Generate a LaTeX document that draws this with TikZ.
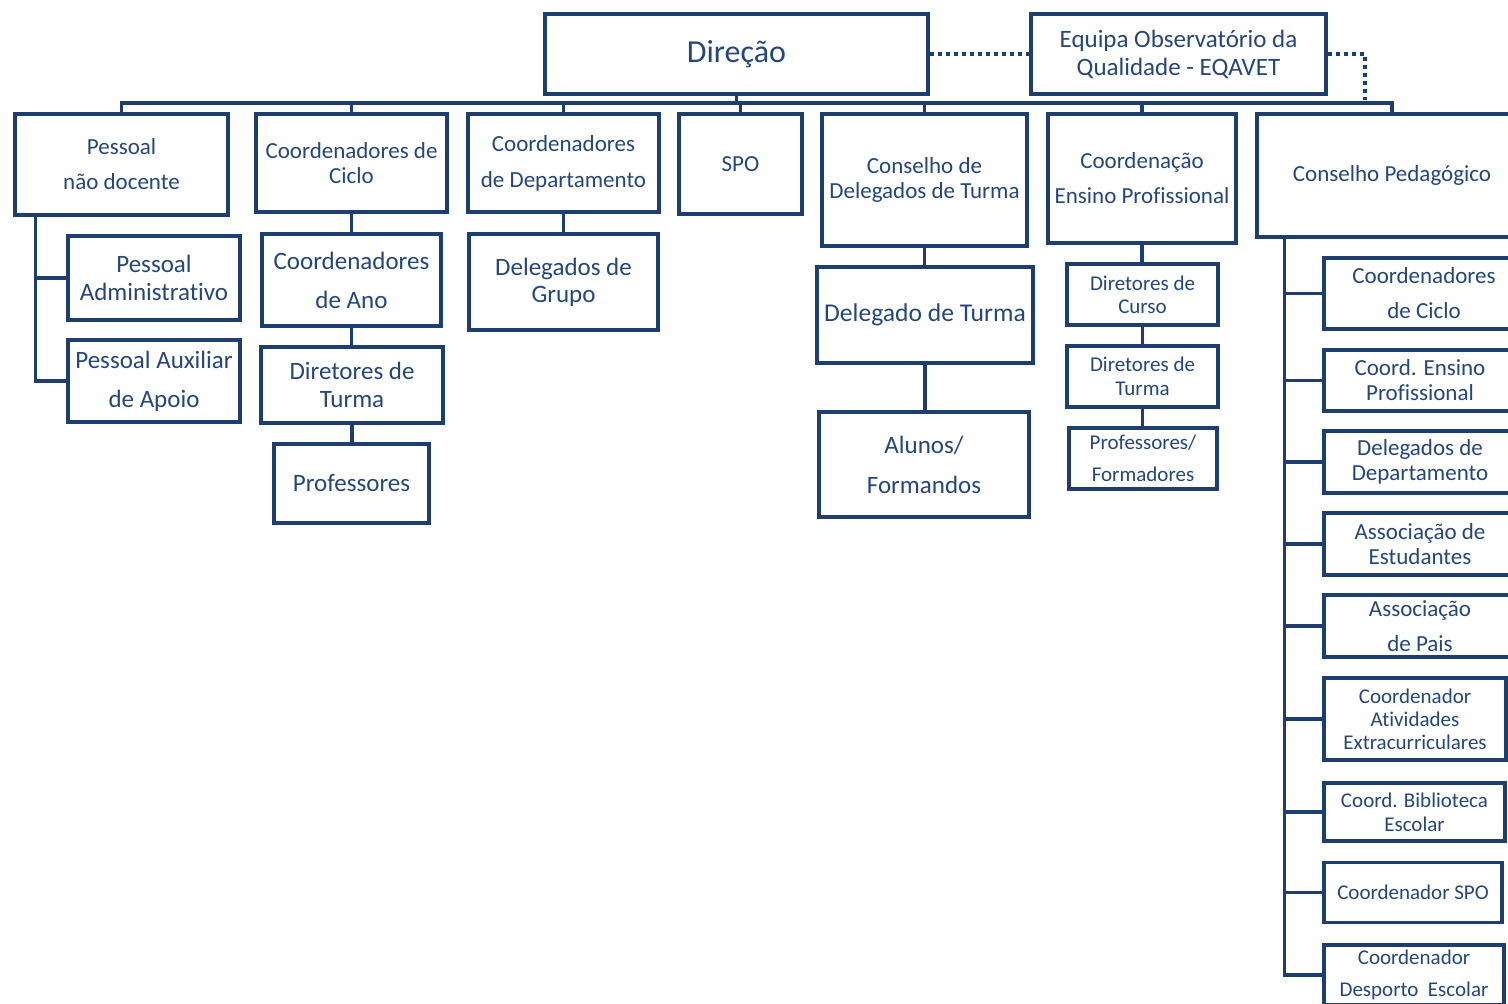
\documentclass[tikz,border=0pt]{standalone}
\usepackage{fontspec}
\setmainfont{Carlito}[Ligatures=NoCommon]
\definecolor{ln}{RGB}{31,62,112}
\definecolor{tx}{RGB}{36,70,122}
\begin{document}
\begin{tikzpicture}[x=0.5pt,y=-0.5pt,
  box/.style={draw=ln, line width=1.7pt, text=tx, align=center, inner sep=0pt},
  sz/.style 2 args={minimum width=#1*0.5pt, minimum height=#2*0.5pt},
  fs/.style 2 args={font=\fontsize{#1}{#2}\selectfont},
  conn/.style={draw=ln, line width=1.7pt},
  dots/.style={draw=ln, line width=2pt, dash pattern=on 2pt off 2pt}]
\useasboundingbox (0,0) rectangle (1508,1003);
% top
\node[box, sz={383}{80}, fs={16}{19}] (dir) at (736.5,54) {Direção};
\node[box, sz={295}{80}, fs={12.5}{14}] (eq) at (1178.5,54) {Equipa Observatório da\\Qualidade - EQAVET};
% level 1
\node[box, sz={213}{101}, fs={11.5}{17.5}] (a1) at (121.5,164.5) {Pessoal\\não docente};
\node[box, sz={191}{98}, fs={11.5}{12.5}] (b1) at (351.5,163) {Coordenadores de\\Ciclo};
\node[box, sz={191}{98}, fs={11.5}{18}] (c1) at (563.5,163) {Coordenadores\\de Departamento};
\node[box, sz={123}{100}, fs={11.5}{14}] (d1) at (740.5,164) {SPO};
\node[box, sz={205}{132}, fs={11.5}{12.5}] (e1) at (924.5,180) {Conselho de\\Delegados de Turma};
\node[box, sz={188}{129}, fs={11.5}{17.5}] (f1) at (1142,178.5) {Coordenação\\Ensino Profissional};
\node[box, sz={270}{123}, fs={11.5}{14}] (g1) at (1392,175.5) {Conselho Pedagógico};
% level 2 left
\node[box, sz={172}{84}, fs={12.5}{14}] (a2) at (154,278) {Pessoal\\Administrativo};
\node[box, sz={172}{82}, fs={12.5}{19.5}] (a3) at (154,381) {Pessoal Auxiliar\\de Apoio};
\node[box, sz={179}{92}, fs={12.5}{19.5}] (b2) at (351.5,280) {Coordenadores\\de Ano};
\node[box, sz={182}{76}, fs={12.5}{14}] (b3) at (352,385) {Diretores de\\Turma};
\node[box, sz={155}{79}, fs={12.5}{14}] (b4) at (351.5,483.5) {Professores};
\node[box, sz={189}{96}, fs={12.5}{13.5}] (c2) at (563.5,282) {Delegados de\\Grupo};
\node[box, sz={216}{96}, fs={12.8}{14}] (e2) at (925,315) {Delegado de Turma};
\node[box, sz={210}{105}, fs={12.5}{20}] (e3) at (924,464.5) {Alunos/\\Formandos};
\node[box, sz={151}{61}, fs={10.5}{11.5}] (f2) at (1142.5,294.5) {Diretores de\\Curso};
\node[box, sz={151}{61}, fs={10.5}{12}] (f3) at (1142.5,376.5) {Diretores de\\Turma};
\node[box, sz={148}{61}, fs={10.5}{16}] (f4) at (1143,458.5) {Professores/\\Formadores};
% conselho pedagogico children
\node[box, sz={200}{71}, fs={11.5}{17.5}] (g2) at (1424,293.5) {Coordenadores\\de Ciclo};
\node[box, sz={192}{61}, fs={11.5}{12.5}] (g3) at (1420,380.5) {Coord. Ensino\\Profissional};
\node[box, sz={192}{62}, fs={11.5}{12.5}] (g4) at (1420,462) {Delegados de\\Departamento};
\node[box, sz={192}{62}, fs={11.5}{12.5}] (g5) at (1420,544) {Associação de\\Estudantes};
\node[box, sz={192}{62}, fs={11.5}{17.5}] (g6) at (1420,626) {Associação\\de Pais};
\node[box, sz={182}{82}, fs={10.5}{11.5}] (g7) at (1415,719) {Coordenador\\Atividades\\Extracurriculares};
\node[box, sz={181}{58}, fs={10.5}{12}] (g8) at (1414.5,812) {Coord. Biblioteca\\Escolar};
\node[box, sz={178}{60}, fs={10.5}{12}] (g9) at (1413,892.5) {Coordenador SPO};
\node[box, sz={180}{60}, fs={10.5}{16}] (g10) at (1414,975) {Coordenador\\Desporto\ \ Escolar};
% dotted links
\coordinate (eqend) at (1365,100);
\draw[dots] (dir.east) -- (eq.west);
\draw[dots] (eq.east) -| (eqend);
% bus
\coordinate (bus) at (0,103);
\draw[conn] (dir.south) -- (dir.south |- bus);
\draw[conn] (a1.north) -- (a1.north |- bus) -- (g1.north |- bus) -- (g1.north);
\foreach \n in {b1,c1,d1,e1,f1}
  \draw[conn] (\n.north) -- (\n.north |- bus);
% left branch
\draw[conn] ([xshift=11pt]a1.south west) |- (a2.west);
\draw[conn] ([xshift=11pt]a1.south west) |- (a3.west);
% chains
\draw[conn] (b1.south) -- (b1.south |- b2.north);
\draw[conn] (b2.south) -- (b2.south |- b3.north);
\draw[conn] (b3.south) -- (b3.south |- b4.north);
\draw[conn] (c1.south) -- (c1.south |- c2.north);
\draw[conn] (e1.south) -- (e1.south |- e2.north);
\draw[conn] (e2.south) -- (e2.south |- e3.north);
\draw[conn] (f1.south) -- (f1.south |- f2.north);
\draw[conn] (f2.south) -- (f2.south |- f3.north);
\draw[conn] (f3.south) -- (f3.south |- f4.north);
% conselho pedagogico branch
\coordinate (gv) at ([xshift=14.5pt]g1.south west);
\foreach \n in {g2,g3,g4,g5,g6,g7,g8,g9,g10}
  \draw[conn] (gv) |- (\n.west);
\end{tikzpicture}
\end{document}
